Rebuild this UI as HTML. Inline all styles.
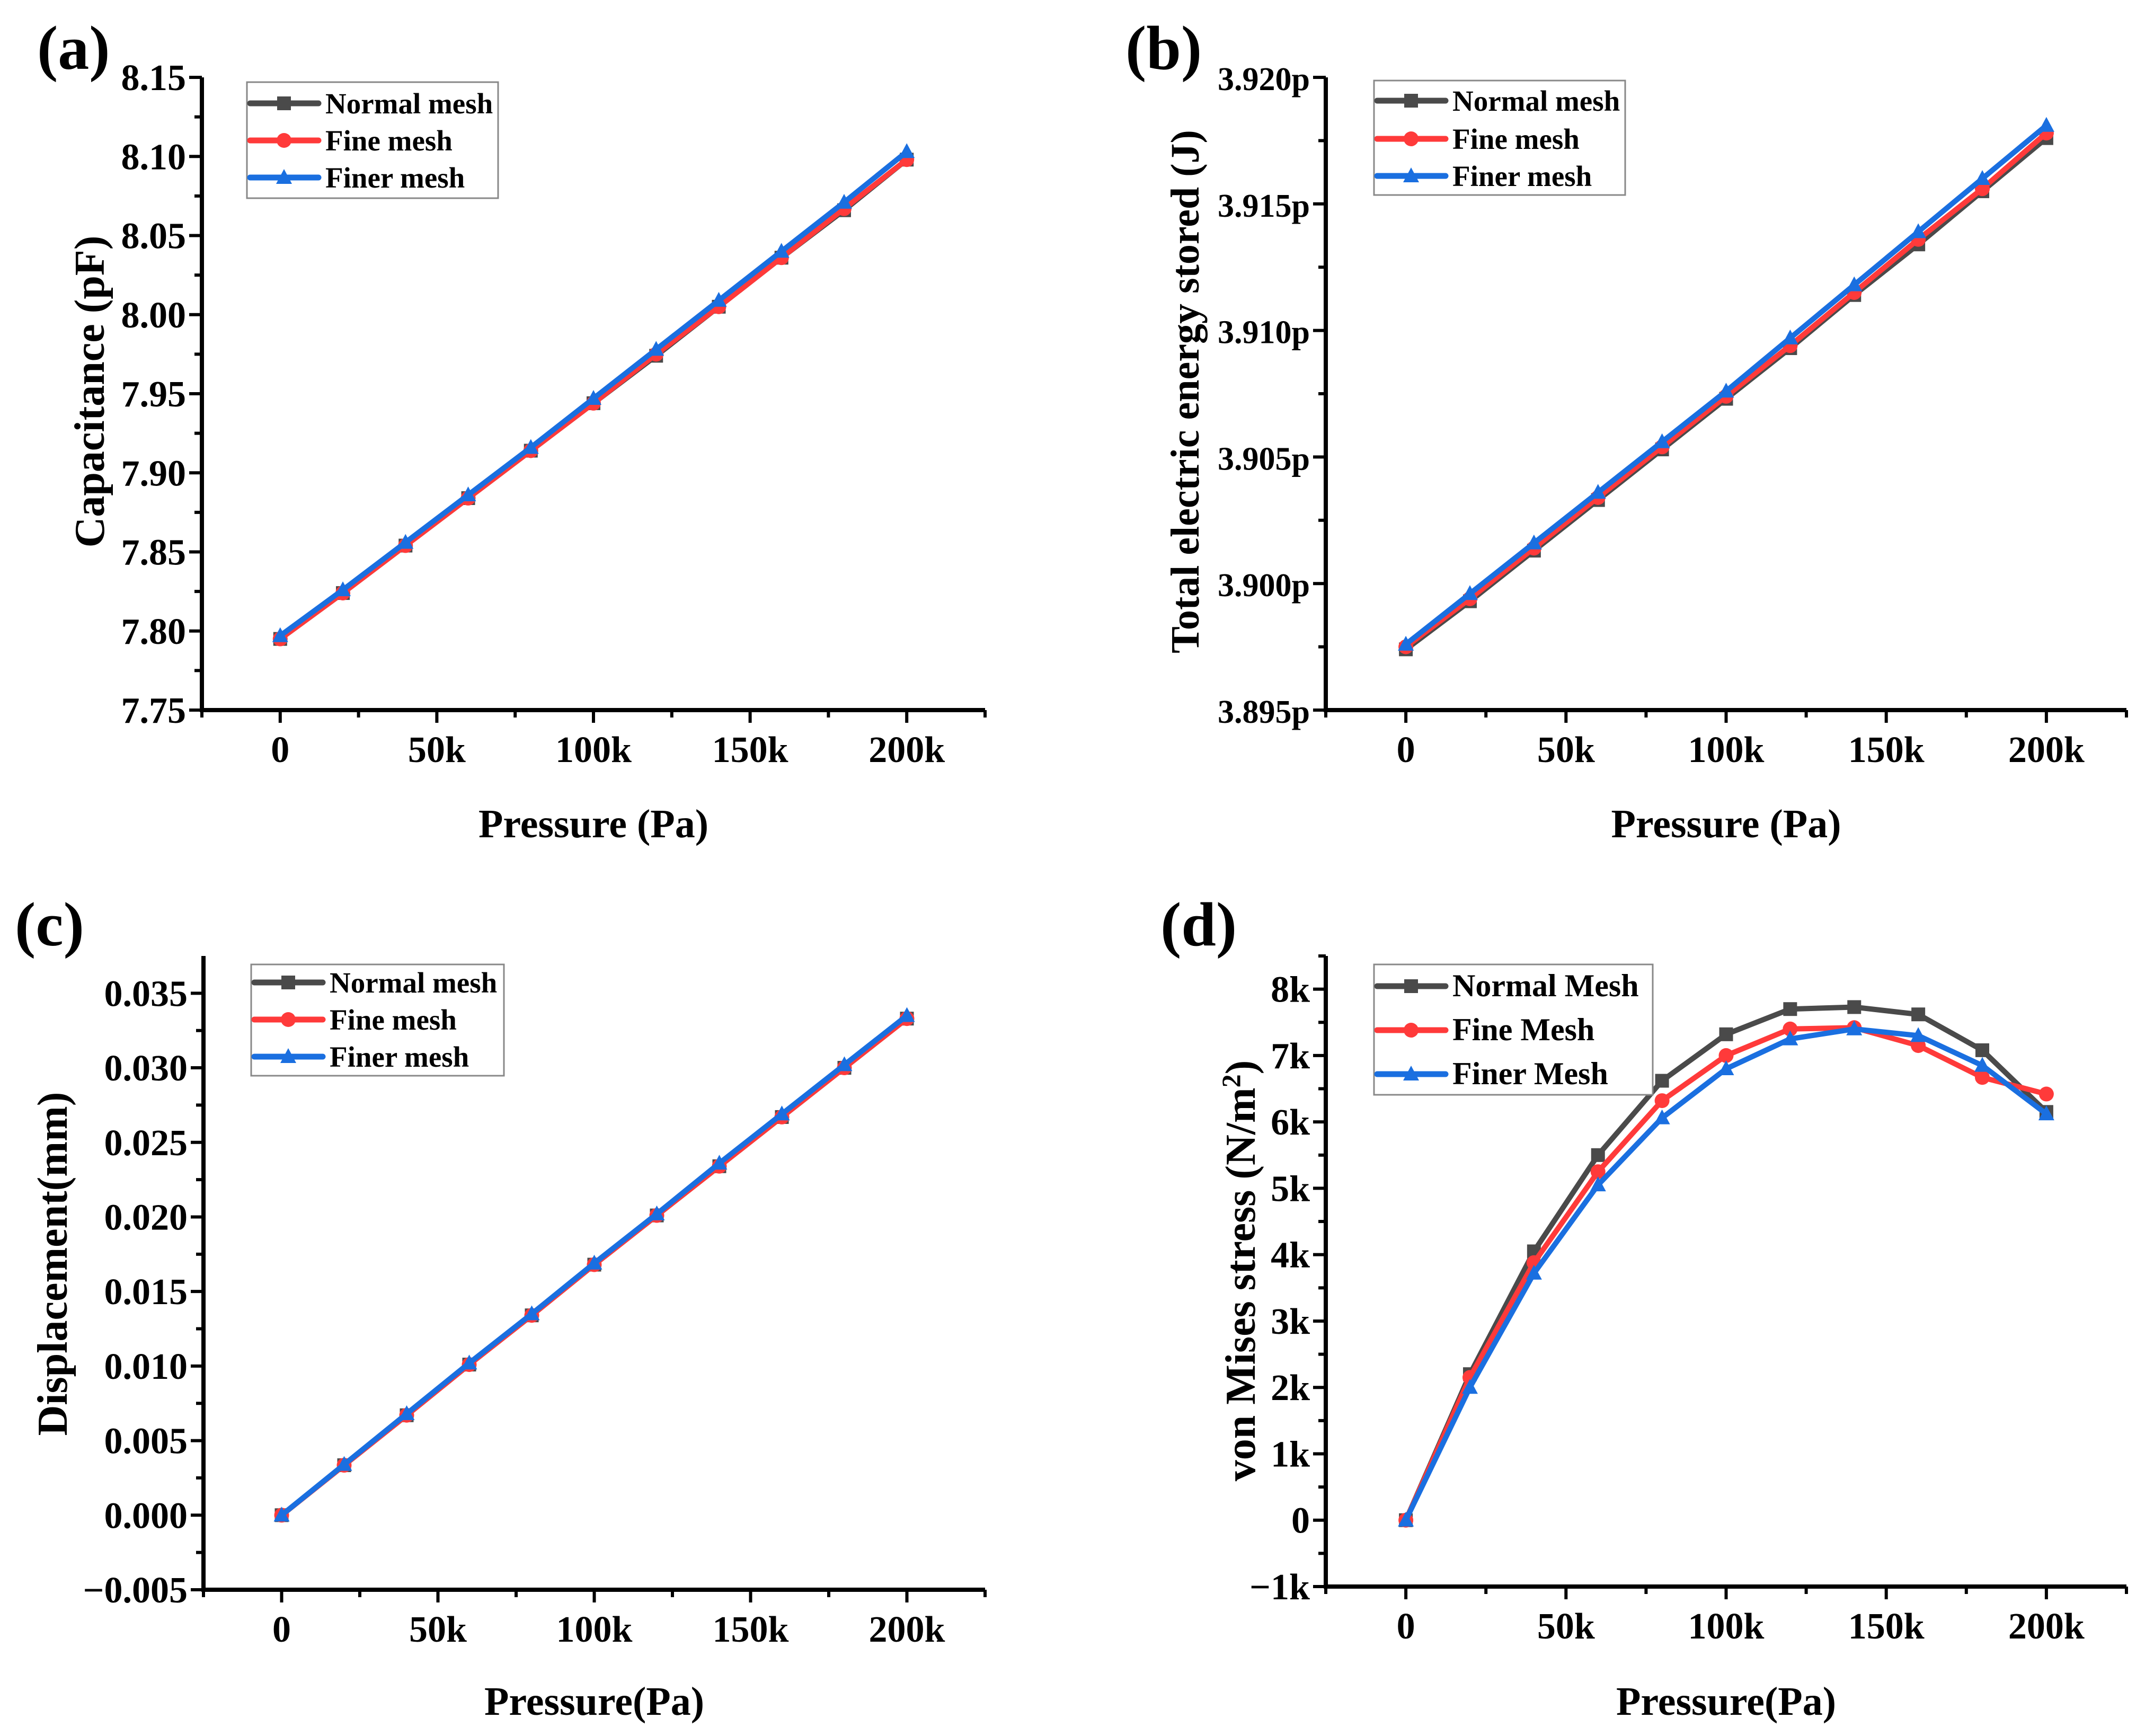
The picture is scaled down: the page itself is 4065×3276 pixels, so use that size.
<!DOCTYPE html>
<html><head><meta charset="utf-8"><style>
html,body{margin:0;padding:0;background:#fff;}
svg{display:block;font-family:"Liberation Serif",serif;font-weight:bold;}
</style></head><body>
<svg id="fig" width="4065" height="3276" viewBox="0 0 4065 3276" xmlns="http://www.w3.org/2000/svg"></svg>
<script>
const pressures=[0,20000,40000,60000,80000,100000,120000,140000,160000,180000,200000];
const xTicks=[0,50000,100000,150000,200000];
const xTickLabels=["0","50k","100k","150k","200k"];
const capNormal=[7.795,7.824,7.854,7.884,7.914,7.944,7.974,8.005,8.036,8.066,8.098];
const capFine=[7.795,7.824,7.854,7.884,7.914,7.944,7.975,8.005,8.036,8.067,8.098];
const capFiner=[7.797,7.826,7.856,7.886,7.916,7.947,7.978,8.009,8.040,8.071,8.103];
const capTicks=[7.75,7.80,7.85,7.90,7.95,8.00,8.05,8.10,8.15];
const enNormal=[3.8974,3.8993,3.9013,3.9033,3.9053,3.9073,3.9093,3.9114,3.9134,3.9155,3.9176];
const enFine=[3.8975,3.8994,3.9014,3.9034,3.9054,3.9074,3.9094,3.9115,3.9136,3.9156,3.9178];
const enFiner=[3.8976,3.8996,3.9016,3.9036,3.9056,3.9076,3.9097,3.9118,3.9139,3.9160,3.9181];
const enTicks=[3.895,3.900,3.905,3.910,3.915,3.920];
const dispNormal=[0,0.00335,0.0067,0.0101,0.0134,0.0168,0.0201,0.0234,0.0267,0.0300,0.0333];
const dispFine=[0,0.00335,0.0067,0.0101,0.0134,0.0168,0.0201,0.0234,0.0267,0.0300,0.0333];
const dispFiner=[0,0.0034,0.0068,0.0102,0.0135,0.0169,0.0202,0.0236,0.0269,0.0302,0.0335];
const dispTicks=[-0.005,0,0.005,0.010,0.015,0.020,0.025,0.030,0.035];
const vmNormal=[0,2200,4050,5500,6620,7320,7700,7730,7620,7080,6150];
const vmFine=[0,2150,3880,5250,6320,7000,7400,7420,7150,6670,6420];
const vmFiner=[0,2000,3720,5050,6060,6800,7250,7400,7300,6850,6120];
const vmTicks=[-1000,0,1000,2000,3000,4000,5000,6000,7000,8000];

const NS="http://www.w3.org/2000/svg";
const svg=document.getElementById('fig');
function mk(tag,attrs,parent){const e=document.createElementNS(NS,tag);for(const k in attrs)e.setAttribute(k,attrs[k]);(parent||svg).appendChild(e);return e;}
const COL={normal:"#4a4a4a",fine:"#ff3a3a",finer:"#1a6fe0"};

function marker(g,type,x,y,color){
  let m;
  if(type==='sq'){m=mk('rect',{x:x-13,y:y-13,width:26,height:26,fill:color},g);}
  else if(type==='ci'){m=mk('circle',{cx:x,cy:y,r:14,fill:color},g);}
  else {m=mk('polygon',{points:`${x},${y-16} ${x-15},${y+12} ${x+15},${y+12}`,fill:color},g);}
  return m;
}

function panel(o){
  const g=mk('g',{});
  
  
  const X=v=>o.x0+(v-(-25000))/(250000)*(o.x1-o.x0);
  const Y=v=>o.yb-(v-o.ymin)/(o.ymax-o.ymin)*(o.yb-o.ytop);
  const ya=mk('line',{x1:o.x0,y1:o.ytop,x2:o.x0,y2:o.yb+4,stroke:"#000","stroke-width":8},g);
  
  const xa=mk('line',{x1:o.x0-4,y1:o.yb,x2:o.x1,y2:o.yb,stroke:"#000","stroke-width":8},g);
  
  for(let v=-25000;v<=225000;v+=25000){
    const major=(v%50000===0);
    mk('line',{x1:X(v),y1:o.yb,x2:X(v),y2:o.yb+(major?24:14),stroke:"#000","stroke-width":6},g);
  }
  xTicks.forEach((v,i)=>{
    const t=mk('text',{x:X(v),y:o.yb+98,"text-anchor":"middle","font-size":70},g);
    t.textContent=xTickLabels[i];
    
  });
  const step=o.ticks[1]-o.ticks[0];
  o.ticks.forEach((v,i)=>{
    mk('line',{x1:o.x0,y1:Y(v),x2:o.x0-24,y2:Y(v),stroke:"#000","stroke-width":6},g);
    const mv=v+step/2;if(Y(mv)>=o.ytop)mk('line',{x1:o.x0,y1:Y(mv),x2:o.x0-14,y2:Y(mv),stroke:"#000","stroke-width":6},g);
    const t=mk('text',{x:o.x0-30,y:Y(v)+24,"text-anchor":"end","font-size":o.tickFs||70},g);
    t.textContent=o.fmt(v);
    
  });
  const series=[[o.s[0],'sq',COL.normal,'normal-mesh-line'],[o.s[1],'ci',COL.fine,'fine-mesh-line'],[o.s[2],'tr',COL.finer,'finer-mesh-line']];
  series.forEach(([d,mt,c,nm])=>{
    const pts=pressures.map((p,i)=>X(p)+","+Y(d[i])).join(" ");
    const pl=mk('polyline',{points:pts,fill:"none",stroke:c,"stroke-width":10,"stroke-linejoin":"round"},g);
    
    pressures.forEach((p,i)=>{const m=marker(g,mt,X(p),Y(d[i]),c);
      });
  });
  const L=o.leg;
  const lg=mk('g',{},g);
  
  mk('rect',{x:L.x,y:L.y,width:L.w,height:L.h,fill:"#fff",stroke:"#888","stroke-width":3},lg);
  series.forEach(([d,mt,c],i)=>{
    const ry=L.rows[i];
    mk('line',{x1:L.x+6,y1:ry,x2:L.x+135,y2:ry,stroke:c,"stroke-width":11,"stroke-linecap":"round"},lg);
    marker(lg,mt,L.x+70,ry,c);
    const t=mk('text',{x:L.x+148,y:ry+19,"font-size":L.fs},lg);
    t.textContent=o.labels[i];
    
  });
  const xt=mk('text',{x:(X(0)+X(200000))/2,y:o.xtY,"text-anchor":"middle","font-size":76},g);
  xt.textContent=o.xt;
  const yt=mk('text',{x:o.ytX,y:o.ytY,"text-anchor":"middle","font-size":o.ytFs||80,transform:`rotate(-90 ${o.ytX} ${o.ytY})`},g);
  if(o.ytSup){yt.textContent=o.ytitle;const ts=mk('tspan',{"baseline-shift":"super","font-size":50},yt);ts.textContent='2';const t2=mk('tspan',{},yt);t2.textContent=')';}
  else yt.textContent=o.ytitle;
  
  const pl=mk('text',{x:o.plX,y:o.plY,"font-size":118},g);
  pl.textContent=o.pl;
}
const meshL=["Normal mesh","Fine mesh","Finer mesh"];
panel({name:'panel-a',x0:381,x1:1859,ytop:146,yb:1340,ymin:7.75,ymax:8.15,ticks:capTicks,fmt:v=>v.toFixed(2),
  s:[capNormal,capFine,capFiner],labels:meshL,leg:{x:466,y:155,w:474,h:219,rows:[195,265,335],fs:55},
  xt:"Pressure (Pa)",xtY:1580,ytitle:"Capacitance (pF)",ytX:196,ytY:739,pl:"(a)",plX:70,plY:130});
panel({name:'panel-b',x0:2502,x1:4013,ytop:146,yb:1340,ymin:3.895,ymax:3.920,ticks:enTicks,fmt:v=>v.toFixed(3)+"p",tickFs:62,
  s:[enNormal,enFine,enFiner],labels:meshL,leg:{x:2593,y:152,w:474,h:216,rows:[190,262,332],fs:55},
  xt:"Pressure (Pa)",xtY:1580,ytitle:"Total electric energy stored (J)",ytFs:76,ytX:2262,ytY:739,pl:"(b)",plX:2124,plY:130});
panel({name:'panel-c',x0:384,x1:1859,ytop:1804,yb:3000,ymin:-0.005,ymax:0.0375,ticks:dispTicks,fmt:v=>(v<0?"\u2212":"")+Math.abs(v).toFixed(3),
  s:[dispNormal,dispFine,dispFiner],labels:meshL,leg:{x:474,y:1820,w:477,h:210,rows:[1854,1924,1994],fs:55},
  xt:"Pressure(Pa)",xtY:3236,ytitle:"Displacement(mm)",ytX:126,ytY:2385,pl:"(c)",plX:28,plY:1784});
panel({name:'panel-d',x0:2502,x1:4013,ytop:1804,yb:2994,ymin:-1000,ymax:8500,ticks:vmTicks,fmt:v=>v===0?"0":(v<0?"\u2212":"")+Math.abs(v/1000)+"k",
  s:[vmNormal,vmFine,vmFiner],labels:["Normal Mesh","Fine Mesh","Finer Mesh"],leg:{x:2593,y:1820,w:526,h:246,rows:[1861,1944,2027],fs:60},
  xt:"Pressure(Pa)",xtY:3236,ytitle:"von Mises stress (N/m",ytSup:true,ytX:2368,ytY:2398,pl:"(d)",plX:2190,plY:1784});
</script>
</body></html>
